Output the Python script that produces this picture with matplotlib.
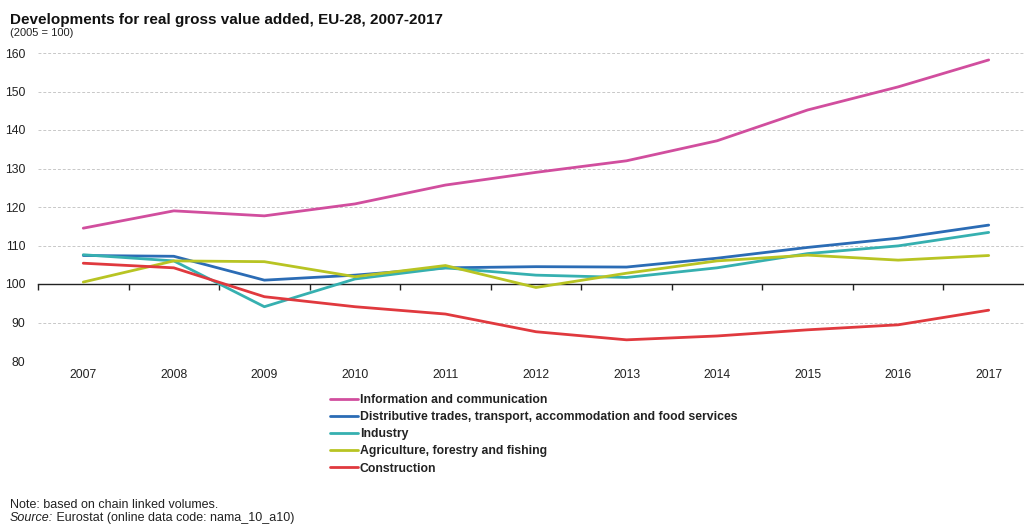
import matplotlib
matplotlib.use("Agg")
import matplotlib.pyplot as plt
import numpy as np

plt.rcParams['font.family'] = ['Liberation Sans', 'DejaVu Sans']

years = ['2007', '2008', '2009', '2010', '2011', '2012', '2013', '2014', '2015', '2016', '2017']
series_names = [
    'Information and communication',
    'Distributive trades, transport, accommodation and food services',
    'Industry',
    'Agriculture, forestry and fishing',
    'Construction',
]
info = [114.5, 119.0, 117.7, 120.8, 125.7, 129.0, 132.0, 137.2, 145.2, 151.2, 158.2]
distributive = [107.4, 107.2, 101.0, 102.3, 104.2, 104.5, 104.4, 106.7, 109.5, 111.9, 115.3]
industry = [107.6, 106.0, 94.1, 101.3, 104.2, 102.3, 101.7, 104.2, 107.9, 109.9, 113.4]
agriculture = [100.5, 106.0, 105.8, 101.9, 104.8, 99.1, 102.8, 106.0, 107.5, 106.2, 107.4]
construction = [105.4, 104.2, 96.7, 94.1, 92.2, 87.6, 85.5, 86.5, 88.1, 89.4, 93.2]
colors = ['#D14E9E', '#2B6CB5', '#36B0B0', '#B8C423', '#E0393E']
yticks = [80, 90, 100, 110, 120, 130, 140, 150, 160]

fig = plt.figure(figsize=(10.24, 5.25), dpi=100)
ax = fig.add_axes([38/1024, 1 - 361/525, 1 - 38/1024, (361 - 53)/525])

x = np.arange(len(years))
for vals, name, c in zip([info, distributive, industry, agriculture, construction], series_names, colors):
    ax.plot(x, vals, color=c, lw=2, label=name, solid_capstyle='round', zorder=3)

ax.set_xlim(-0.5, 10.39)
ax.set_ylim(80, 160)
ax.set_yticks(yticks)
ax.set_yticklabels([str(v) for v in yticks], fontsize=8.8, color='#222222')
ax.set_xticks(x)
ax.set_xticklabels(years, fontsize=8.8, color='#222222')
ax.tick_params(axis='both', length=0)
ax.tick_params(axis='y', pad=9)
ax.tick_params(axis='x', pad=6)
for s in ax.spines.values():
    s.set_visible(False)
ax.grid(axis='y', color='#C8C8C8', ls=(0, (3, 2)), lw=0.7)
ax.set_axisbelow(True)
for tick_val, gl in zip(yticks, ax.yaxis.get_gridlines()):
    if tick_val == 100:
        gl.set_visible(False)

# baseline at 100 with category-boundary ticks
sec = ax.secondary_xaxis((100 - 80) / (160 - 80))
sec.set_xticks(np.arange(-0.5, len(years), 1.0))
sec.set_xticklabels([])
sec.tick_params(axis='x', length=4, width=1, color='#222222', direction='out')
sec.spines['bottom'].set_color('#222222')
sec.spines['bottom'].set_linewidth(1)

leg = fig.legend(loc='upper left', bbox_to_anchor=(330/1024, 1 - 394/525), frameon=False,
                 prop={'size': 8.8, 'weight': 'bold'}, handlelength=2.3, handletextpad=0.15,
                 labelspacing=0.42, borderaxespad=0, borderpad=0)
for t in leg.get_texts():
    t.set_color('#222222')

fig.text(10/1024, 1 - 20/525, 'Developments for real gross value added, EU-28, 2007-2017',
         fontsize=11, fontweight='bold', va='center', ha='left', color='#111111')
fig.text(10/1024, 1 - 33/525, '(2005 = 100)', fontsize=8, va='center', ha='left', color='#222222')

fig.text(10/1024, 1 - 505/525, 'Note: based on chain linked volumes.', fontsize=9,
         va='center', ha='left', color='#222222')
src = fig.text(10/1024, 1 - 518/525, 'Source:', fontsize=9, style='italic',
               va='center', ha='left', color='#222222')
ax.annotate(' Eurostat (online data code: nama_10_a10)', xy=(1, 0.5), xycoords=src,
            va='center', ha='left', fontsize=9, color='#222222', annotation_clip=False)

fig.savefig('out.png', dpi=100)
